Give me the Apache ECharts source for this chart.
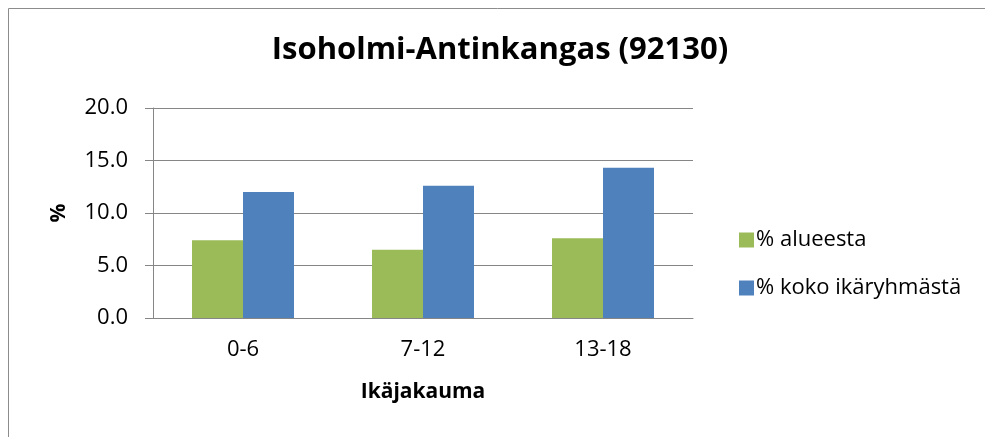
<!DOCTYPE html>
<html><head><meta charset="utf-8">
<script src="https://cdn.jsdelivr.net/npm/echarts@6/dist/echarts.min.js"></script>
<style>html,body{margin:0;padding:0;background:#fff}#c{width:985px;height:437px}</style>
</head><body><div id="c"></div>
<script>
const categories = ['0-6', '7-12', '13-18'];
const alueesta = [7.4, 6.5, 7.6];
const kokoIkaryhmasta = [12.0, 12.6, 14.3];
const seriesNames = ['% alueesta', '% koko ikäryhmästä'];
const titleText = 'Isoholmi-Antinkangas (92130)';
const xAxisName = 'Ikäjakauma';
const yAxisName = '%';

const FONT = '"Open Sans", "Noto Sans", sans-serif';
const chart = echarts.init(document.getElementById('c'), null, {renderer: 'canvas'});
chart.setOption({
  backgroundColor: '#fff',
  animation: false,
  graphic: [{
    type: 'rect', left: 8, top: 8, z: -10,
    shape: {width: 990, height: 440},
    style: {fill: '#fff', stroke: '#8c8c8c', lineWidth: 1}
  }],
  title: {
    text: titleText, left: 495, top: 30, textAlign: 'center',
    textStyle: {fontFamily: FONT, fontWeight: 'bold', fontSize: 31, color: '#000'}
  },
  legend: {
    orient: 'vertical', left: 734, top: 224, itemGap: 26,
    itemWidth: 15, itemHeight: 15, icon: 'rect',
    textStyle: {fontFamily: FONT, fontSize: 22, color: '#000', padding: [0, 0, 0, -3]},
    data: seriesNames
  },
  grid: {left: 153, right: 292, top: 108, bottom: 119, containLabel: false},
  xAxis: {
    type: 'category', data: categories,
    name: xAxisName, nameLocation: 'middle', nameGap: 64,
    nameTextStyle: {fontFamily: FONT, fontWeight: 'bold', fontSize: 21, color: '#000'},
    axisLine: {lineStyle: {color: '#868686', width: 1}},
    axisTick: {show: false},
    axisLabel: {fontFamily: FONT, fontSize: 22, color: '#000', margin: 21}
  },
  yAxis: {
    type: 'value', min: 0, max: 20, interval: 5,
    name: yAxisName, nameLocation: 'middle', nameGap: 83, nameRotate: 90,
    nameTextStyle: {fontFamily: FONT, fontWeight: 'bold', fontSize: 21, color: '#000'},
    axisLine: {show: true, lineStyle: {color: '#868686', width: 1}},
    axisTick: {show: true, inside: false, length: 8, lineStyle: {color: '#868686', width: 1}},
    splitLine: {lineStyle: {color: '#868686', width: 1}},
    axisLabel: {fontFamily: FONT, fontSize: 22, color: '#000', margin: 25,
      formatter: v => v.toFixed(1)}
  },
  series: [
    {name: seriesNames[0], type: 'bar', data: alueesta, barWidth: 51, barGap: '0%',
     itemStyle: {color: '#9BBB59'}},
    {name: seriesNames[1], type: 'bar', data: kokoIkaryhmasta, barWidth: 51, barGap: '0%',
     itemStyle: {color: '#4F81BD'}}
  ]
});
</script></body></html>
